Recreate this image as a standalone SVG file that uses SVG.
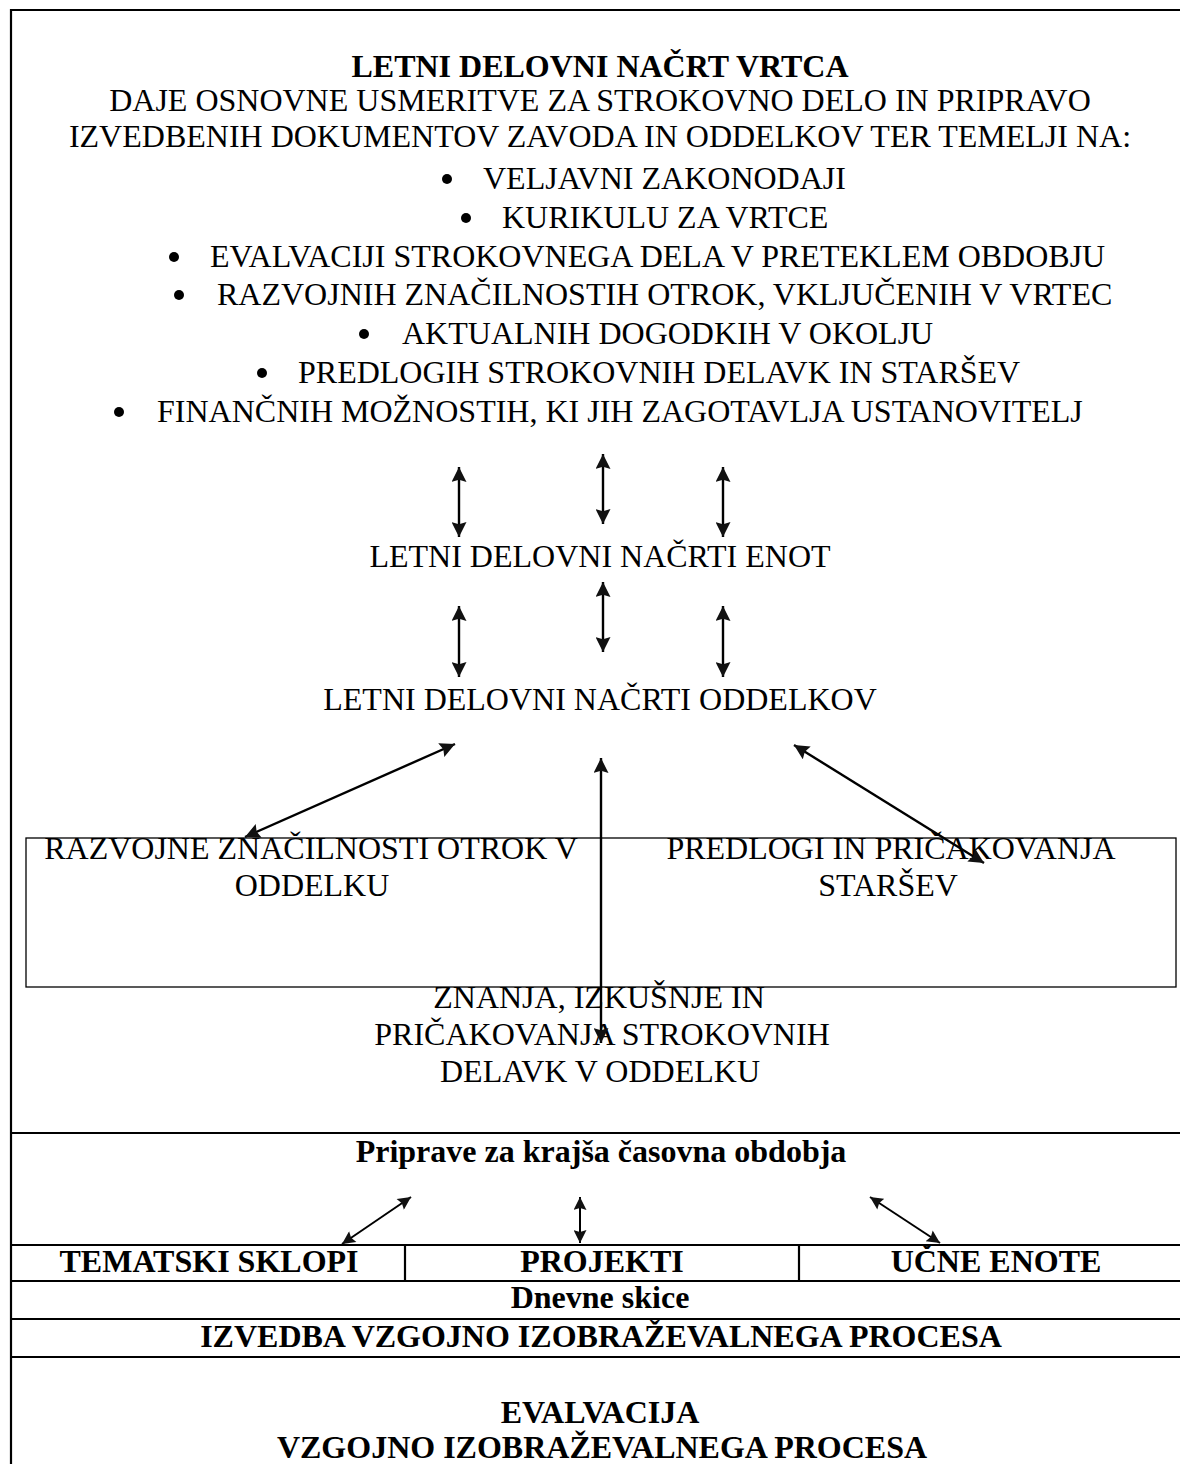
<svg xmlns="http://www.w3.org/2000/svg" width="1180" height="1464" viewBox="0 0 1180 1464">
<style>
text{font-family:"Liberation Serif","Times New Roman",serif;font-size:32px;fill:#000}
.b{font-weight:bold}
.c{text-anchor:middle}
.frame{stroke:#000;stroke-width:2.2;fill:none}
.thin{stroke:#000;stroke-width:1.3;fill:none}
.arr{stroke:#000;stroke-width:2.4;fill:none;marker-start:url(#ah);marker-end:url(#ah)}
.arrs{stroke:#000;stroke-width:2;fill:none;marker-start:url(#ahs);marker-end:url(#ahs)}
</style>
<defs>
<marker id="ah" viewBox="0 0 10 10" refX="10" refY="5" markerUnits="userSpaceOnUse" markerWidth="16" markerHeight="15" orient="auto-start-reverse"><path d="M0,0 L10,5 L0,10 L1.5,5 z" fill="#111"/></marker>
<marker id="ahs" viewBox="0 0 10 10" refX="10" refY="5" markerUnits="userSpaceOnUse" markerWidth="14" markerHeight="13" orient="auto-start-reverse"><path d="M0,0 L10,5 L0,10 L1.5,5 z" fill="#111"/></marker>
</defs>
<rect width="1180" height="1464" fill="#fff"/>
<g id="frame">
<path class="frame" d="M11,1464 V10 H1180"/>
<path class="frame" d="M11,1133 H1180 M11,1245 H1180 M11,1281 H1180 M11,1319 H1180 M11,1357 H1180 M405,1245 V1281 M799,1245 V1281"/>
</g>
<g id="letni-delovni-nacrt-vrtca">
<text class="b c" x="600" y="77">LETNI DELOVNI NAČRT VRTCA</text>
<text class="c" x="600" y="111">DAJE OSNOVNE USMERITVE ZA STROKOVNO DELO IN PRIPRAVO</text>
<text class="c" x="600" y="147">IZVEDBENIH DOKUMENTOV ZAVODA IN ODDELKOV TER TEMELJI NA:</text>
<circle cx="447" cy="179" r="5"/><text x="483" y="189">VELJAVNI ZAKONODAJI</text>
<circle cx="466" cy="218" r="5"/><text x="502" y="228">KURIKULU ZA VRTCE</text>
<circle cx="174" cy="257" r="5"/><text x="210" y="267">EVALVACIJI STROKOVNEGA DELA V PRETEKLEM OBDOBJU</text>
<circle cx="179" cy="295" r="5"/><text x="217" y="305">RAZVOJNIH ZNAČILNOSTIH OTROK, VKLJUČENIH V VRTEC</text>
<circle cx="364" cy="334" r="5"/><text x="402" y="344">AKTUALNIH DOGODKIH V OKOLJU</text>
<circle cx="262" cy="373" r="5"/><text x="298" y="383">PREDLOGIH STROKOVNIH DELAVK IN STARŠEV</text>
<circle cx="119" cy="412" r="5"/><text x="157" y="422">FINANČNIH MOŽNOSTIH, KI JIH ZAGOTAVLJA USTANOVITELJ</text>
</g>
<g id="letni-nacrti-enot"><text class="c" x="600" y="567">LETNI DELOVNI NAČRTI ENOT</text></g>
<g id="letni-nacrti-oddelkov"><text class="c" x="600" y="710">LETNI DELOVNI NAČRTI ODDELKOV</text></g>
<g id="box-vplivi">
<rect class="thin" x="26" y="838" width="1150" height="149"/>
<text class="c" x="311" y="859">RAZVOJNE ZNAČILNOSTI OTROK V</text>
<text class="c" x="312" y="896">ODDELKU</text>
<text class="c" x="891" y="859">PREDLOGI IN PRIČAKOVANJA</text>
<text class="c" x="888" y="896">STARŠEV</text>
</g>
<g id="znanja">
<text class="c" x="599" y="1008">ZNANJA, IZKUŠNJE IN</text>
<text class="c" x="602" y="1045">PRIČAKOVANJA STROKOVNIH</text>
<text class="c" x="600" y="1082">DELAVK V ODDELKU</text>
</g>
<g id="priprave"><text class="b c" x="601" y="1162">Priprave za krajša časovna obdobja</text></g>
<g id="tematski-sklopi"><text class="b c" x="209" y="1272">TEMATSKI SKLOPI</text></g>
<g id="projekti"><text class="b c" x="602" y="1272">PROJEKTI</text></g>
<g id="ucne-enote"><text class="b c" x="996" y="1272">UČNE ENOTE</text></g>
<g id="dnevne-skice"><text class="b c" x="600" y="1308">Dnevne skice</text></g>
<g id="izvedba"><text class="b c" x="601" y="1347">IZVEDBA VZGOJNO IZOBRAŽEVALNEGA PROCESA</text></g>
<g id="evalvacija">
<text class="b c" x="600" y="1423">EVALVACIJA</text>
<text class="b c" x="602" y="1458">VZGOJNO IZOBRAŽEVALNEGA PROCESA</text>
</g>
<g id="connectors">
<path class="arr" d="M459,467 V537"/>
<path class="arr" d="M603,454 V524"/>
<path class="arr" d="M723,467 V537"/>
<path class="arr" d="M459,606 V677"/>
<path class="arr" d="M603,582 V652"/>
<path class="arr" d="M723,606 V677"/>
<path class="arr" d="M455,744 L245,837"/>
<path class="arr" d="M794,745 L984,863"/>
<path class="arr" d="M601,758 V1043"/>
<path class="arrs" d="M411,1197 L342,1244"/>
<path class="arrs" d="M580,1197 V1243"/>
<path class="arrs" d="M870,1197 L940,1243"/>
</g>
</svg>
